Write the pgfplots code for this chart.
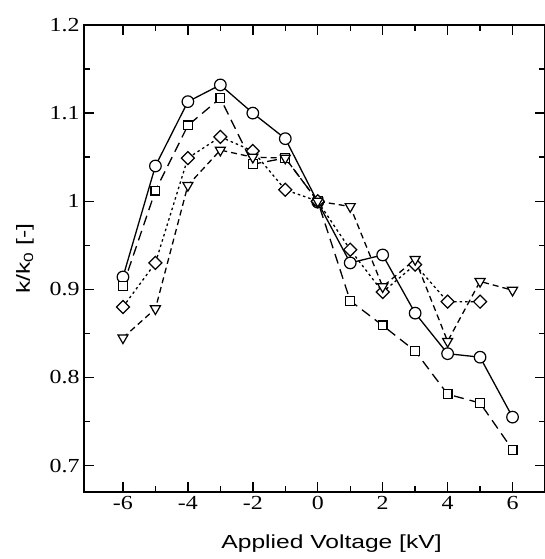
\documentclass[border=0pt]{standalone}
\usepackage{pgfplots}
\pgfplotsset{compat=1.18}
\usepackage{fontspec}
\setmainfont{Liberation Serif}
\newfontfamily\tickfont{Liberation Serif}[FakeStretch=1.2]
\newfontfamily\labfont{Liberation Sans}[FakeStretch=1.3]
\usetikzlibrary{calc}
\begin{document}
\begin{tikzpicture}
\begin{axis}[
  scale only axis, width=461bp, height=467bp,
  xmin=-7.2, xmax=7, ymin=0.67, ymax=1.2,
  xtick={-6,-4,...,6}, minor x tick num=1,
  ytick={0.7,0.8,0.9,1.0,1.1,1.2}, minor y tick num=1,
  tick align=inside,
  major tick length=10bp, minor tick length=6bp,
  every tick/.style={black, line width=1.4bp},
  axis line style={line width=1.5bp},
  /pgf/number format/assume math mode=true,
  tick label style={font=\tickfont\fontsize{20}{20}\selectfont},
  xticklabel style={yshift=-1bp},
  yticklabel style={xshift=-1bp},
  xlabel={Applied Voltage [kV]},
  ylabel={k/k\textsubscript{0} [-]},
  every axis x label/.style={at={(axis description cs:0.537,-0.12)}, anchor=base,
    font=\labfont\fontsize{19}{19}\selectfont},
  every axis y label/.style={at={(axis description cs:-0.128,0.5)}, rotate=90, anchor=center,
    font=\labfont\fontsize{19}{19}\selectfont},
]
\coordinate (ll) at (rel axis cs:0,0);
\coordinate (ur) at (rel axis cs:1,1);
% circles, solid
\addplot[black, line width=1.3bp, mark=*, mark size=5.8bp,
  mark options={solid, fill=white, line width=1.2bp}] coordinates {
(-6,0.914) (-5,1.040) (-4,1.113) (-3,1.132) (-2,1.100) (-1,1.071) (0,0.999)
(1,0.930) (2,0.939) (3,0.873) (4,0.827) (5,0.823) (6,0.755)};
% squares, long dashes
\addplot[black, line width=1.3bp, dash pattern=on 10bp off 6bp, mark=square*, mark size=4.4bp,
  mark options={solid, fill=white, line width=1.2bp}] coordinates {
(-6,0.904) (-5,1.012) (-4,1.086) (-3,1.117) (-2,1.042) (-1,1.049) (0,1.000)
(1,0.887) (2,0.859) (3,0.830) (4,0.781) (5,0.771) (6,0.718)};
% diamonds, dotted
\addplot[black, line width=1.3bp, dash pattern=on 2.5bp off 3bp, mark=square*, mark size=4.6bp,
  mark options={solid, fill=white, line width=1.2bp, rotate=45}] coordinates {
(-6,0.880) (-5,0.930) (-4,1.049) (-3,1.073) (-2,1.057) (-1,1.013) (0,1.000)
(1,0.945) (2,0.897) (3,0.928) (4,0.886) (5,0.886)};
% triangles, short dashes
\addplot[black, line width=1.3bp, dash pattern=on 6bp off 4bp, mark=triangle*, mark size=5.8bp,
  mark options={solid, fill=white, line width=1.2bp, rotate=180}] coordinates {
(-6,0.845) (-5,0.878) (-4,1.018) (-3,1.058) (-2,1.050) (-1,1.049) (0,1.000)
(1,0.994) (2,0.903) (3,0.934) (4,0.841) (5,0.909) (6,0.899)};
\end{axis}
\pgfresetboundingbox
\path[use as bounding box] ($(ll)+(-84bp,-67bp)$) rectangle ($(ur)+(0bp,25bp)$);
\end{tikzpicture}
\end{document}
